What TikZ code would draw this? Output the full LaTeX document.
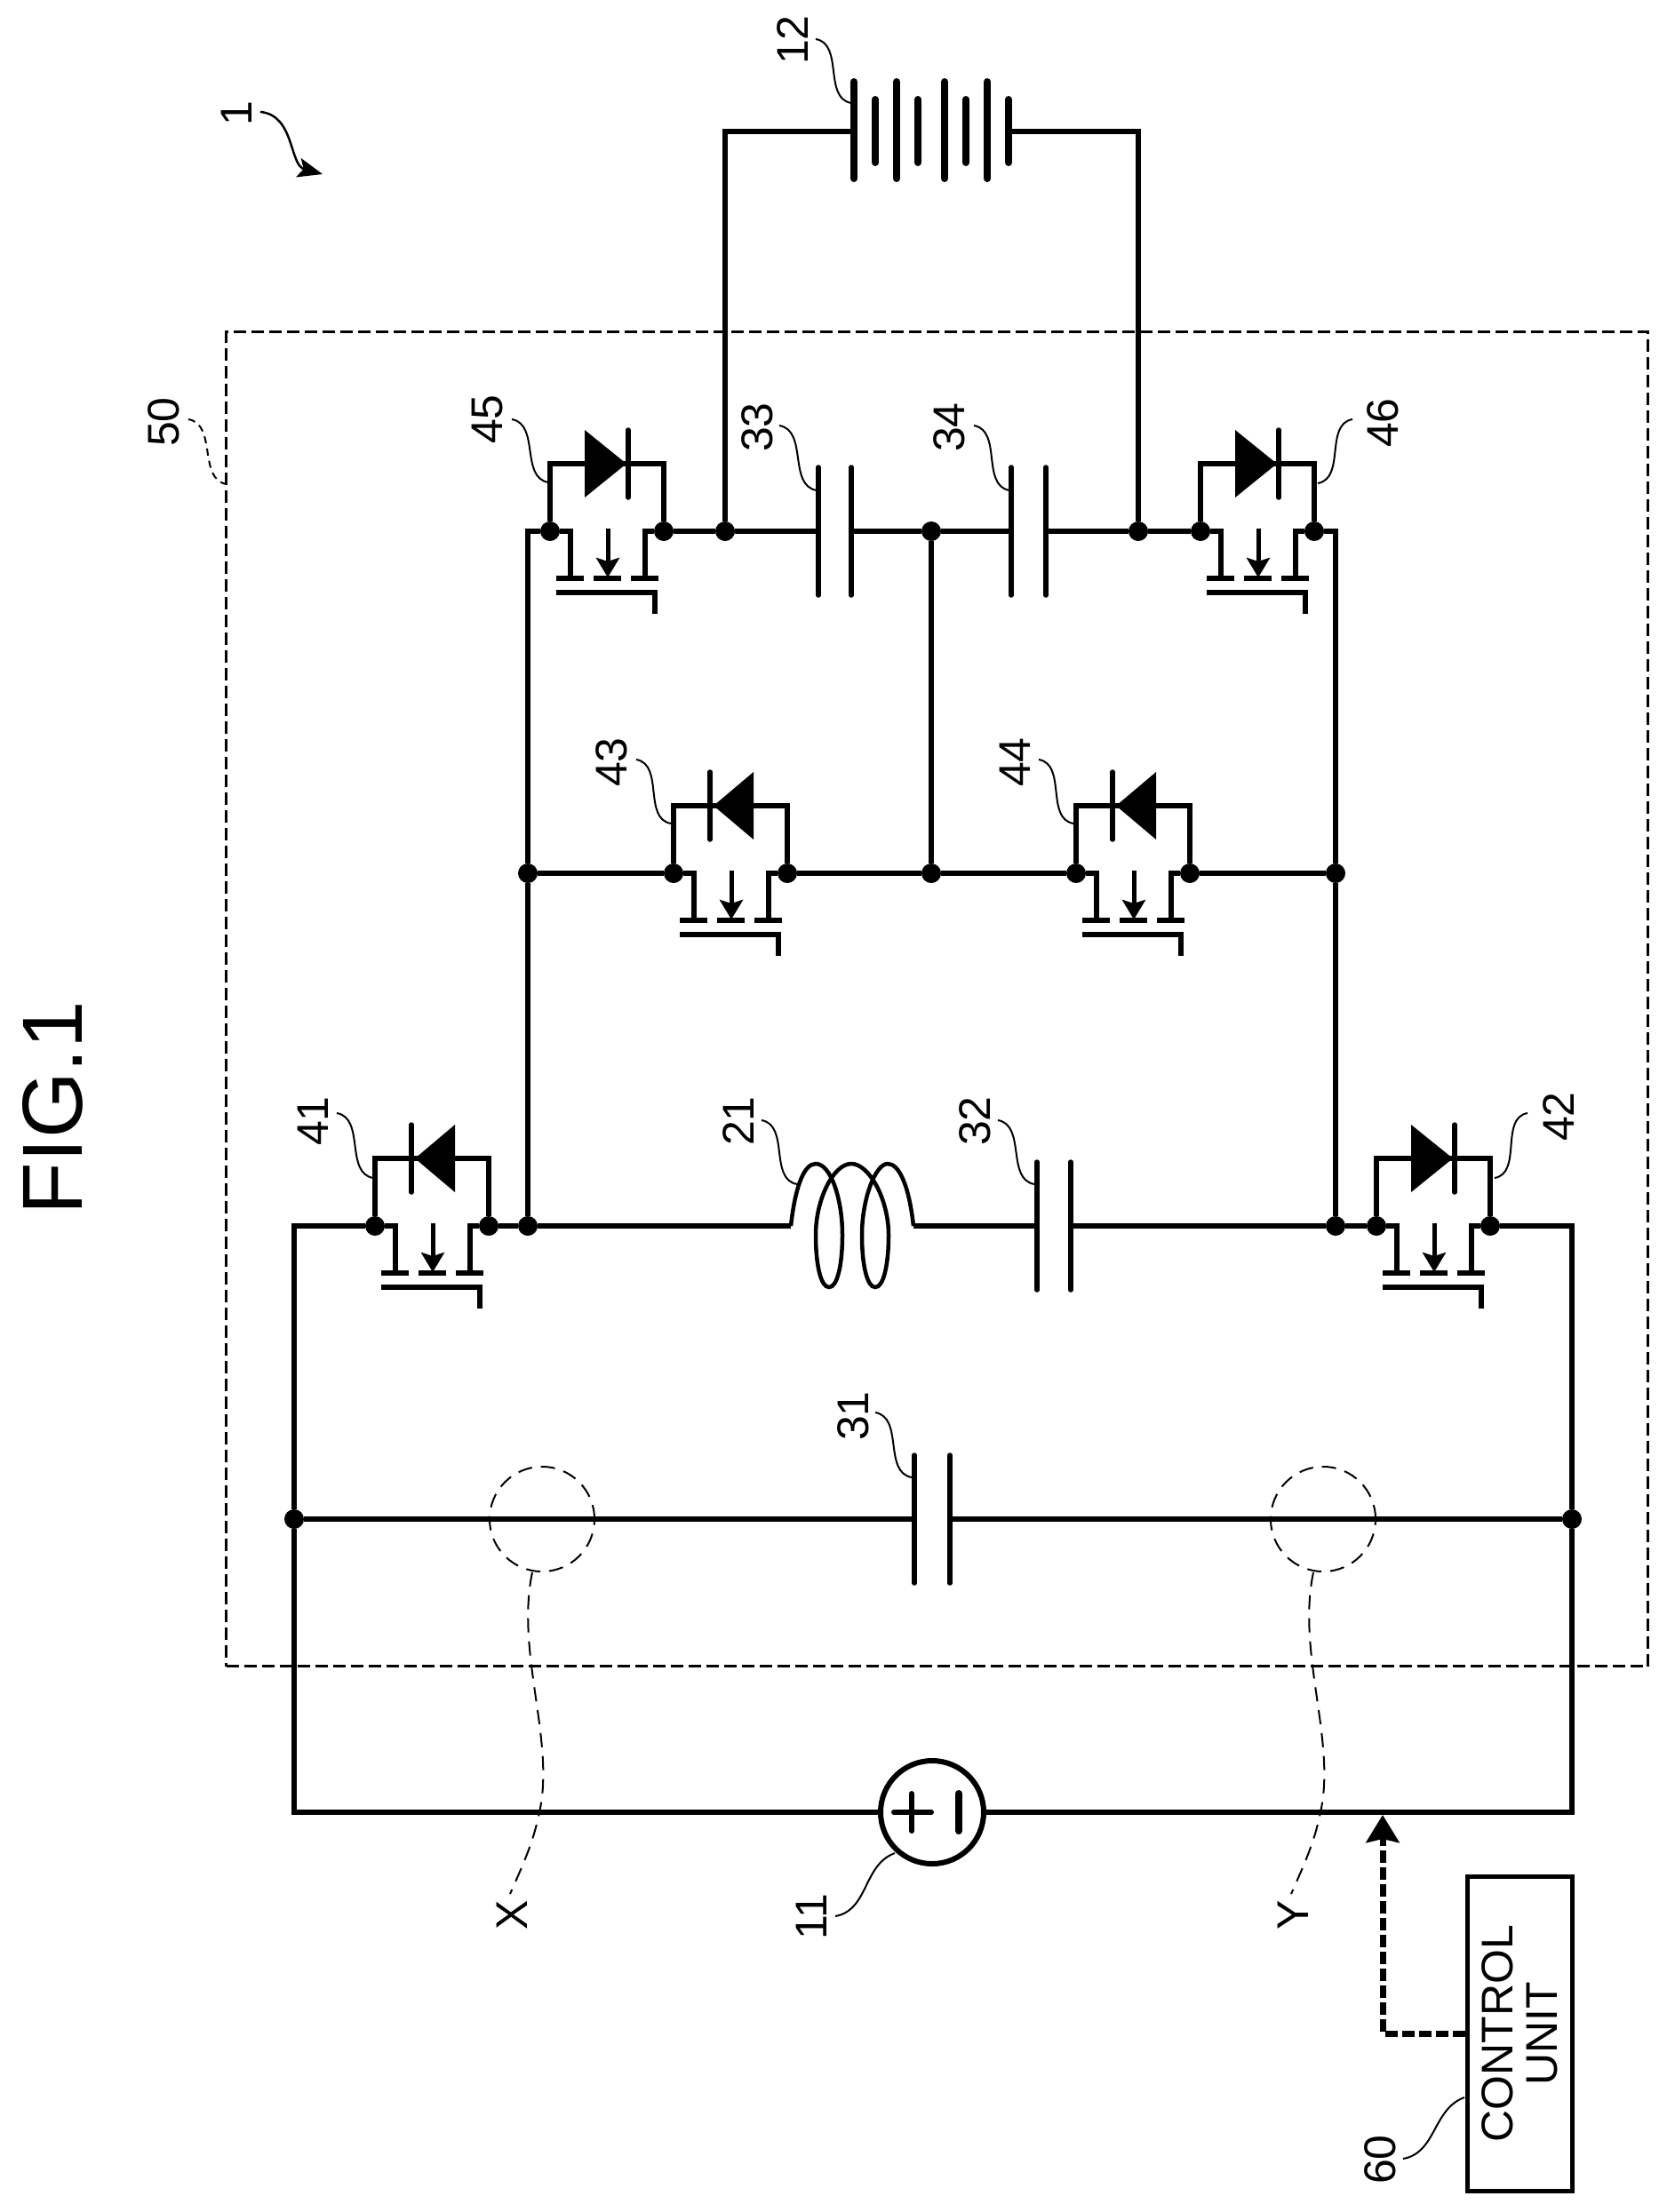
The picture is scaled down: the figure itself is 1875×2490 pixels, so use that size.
\documentclass[tikz,border=0pt]{standalone}
\usepackage{fontspec}
\setmainfont{Liberation Sans}
\usetikzlibrary{arrows.meta}

\tikzset{
  wire/.style={line width=3.25pt},
  plate/.style={line width=2.75pt, line cap=round},
  cell/.style={line width=4pt, line cap=round},
  jdot/.style={circle, fill=black, inner sep=0pt, minimum size=11pt},
  reflabel/.style={rotate=90, inner sep=0pt, font=\fontsize{25}{25}\selectfont},
  leadln/.style={line width=1pt, out=-10, in=170},
  leadback/.style={line width=1pt, out=190, in=10},
  leadup/.style={line width=1pt, out=10, in=200},
  thindash/.style={line width=1pt, dash pattern=on 8pt off 5pt},
}

% one switch, #1 name, #2 #3 left dot, #4 diode
\newcommand{\mosfet}[4]{%
\begin{scope}[shift={(#2,#3)}, name prefix=#1-]
\node[jdot] (l) at (0,0) {};
\node[jdot] (r) at (128,0) {};
\draw[wire] (l) -- (0,-76) -- (128,-76) -- (r);
\draw[wire] (l) -- (23,0) -- (23,53);
\draw[wire] (r) -- (107,0) -- (107,53);
\draw[line width=3pt] (7,53) -- (38,53);
\draw[line width=3pt] (49,53) -- (80,53);
\draw[line width=3pt] (91,53) -- (122,53);
\draw[line width=2.5pt, -{Stealth[length=11pt,width=13pt,inset=2pt]}] (65,-3) -- (65,52);
\draw[line width=3pt] (7,69) -- (118,69) -- (118,93);
#4
\end{scope}}
\newcommand{\diodeleft}{%
\fill (45,-76) -- (90,-114) -- (90,-38) -- cycle;
\draw[plate] (41,-114) -- (41,-38);}
\newcommand{\dioderight}{%
\fill (86,-76) -- (39,-114) -- (39,-38) -- cycle;
\draw[plate] (88,-114) -- (88,-38);}

% capacitor, #1 name, #2 #3 plates, #4 height
\newcommand{\capacitor}[4]{%
\coordinate (#1a) at (#2,#4);
\coordinate (#1b) at (#3,#4);
\draw[plate] (#2,#4-72) -- (#2,#4+72);
\draw[plate] (#3,#4-72) -- (#3,#4+72);}

\begin{document}
\begin{tikzpicture}[x=0.5pt, y=-0.5pt]
\useasboundingbox (0,0) rectangle (1875,2490);

\node[rotate=90, inner sep=0pt, font=\fontsize{48}{48}\selectfont] (fig) at (59,1247) {FIG.1};

%Converter box
\node[draw, line width=1.75pt, dash pattern=on 7pt off 3pt, minimum width=800pt, minimum height=751pt, inner sep=0pt] (box) at (1054.5,1124.5) {};

%Switches
\mosfet{m41}{422}{1380}{\diodeleft}
\mosfet{m42}{1549}{1380}{\dioderight}
\mosfet{m43}{758}{983}{\diodeleft}
\mosfet{m44}{1211}{983}{\diodeleft}
\mosfet{m45}{619}{598}{\dioderight}
\mosfet{m46}{1351}{598}{\dioderight}

%Capacitors
\capacitor{c31}{1029}{1069}{1710}
\capacitor{c32}{1167}{1205}{1380}
\capacitor{c33}{921}{958}{598}
\capacitor{c34}{1138}{1177}{598}

%Junctions
\node[jdot] (jl) at (331,1710) {};
\node[jdot] (jr) at (1769,1710) {};
\node[jdot] (ja) at (594,1380) {};
\node[jdot] (jb) at (1503,1380) {};
\node[jdot] (jc) at (594,983) {};
\node[jdot] (jd) at (1048,983) {};
\node[jdot] (je) at (1503,983) {};
\node[jdot] (jf) at (816,598) {};
\node[jdot] (jg) at (1048,598) {};
\node[jdot] (jh) at (1281,598) {};

\coordinate (tl) at (331,1380);
\coordinate (bl) at (331,2040);
\coordinate (br) at (1769,2040);
\coordinate (tr) at (1769,1380);
\coordinate (ul) at (594,598);
\coordinate (ur) at (1503,598);
\coordinate (batl) at (816,148);
\coordinate (batr) at (1281,148);
\coordinate (bata) at (961,148);
\coordinate (batb) at (1135,148);
\coordinate (cl) at (890,1380);
\coordinate (cr) at (1028,1380);

%Source
\node[draw, circle, line width=3pt, inner sep=0pt, minimum size=58pt] (src) at (1049,2040) {};
\draw[line width=3pt, line cap=round] (1006,2040) -- (1048,2040);
\draw[line width=3pt, line cap=round] (1026,2019) -- (1026,2061);
\draw[line width=4pt, line cap=round] (1079,2019) -- (1079,2061);

%Wires
\draw[wire] (m41-l) -- (tl) -- (jl) -- (bl) -- (src) -- (br) -- (jr) -- (tr) -- (m42-r);
\draw[wire] (jl) -- (c31a);
\draw[wire] (c31b) -- (jr);
\draw[wire] (m41-r) -- (ja) -- (cl);
\draw[wire] (cr) -- (c32a);
\draw[wire] (c32b) -- (jb) -- (m42-l);
\draw[wire] (ja) -- (jc) -- (ul) -- (m45-l);
\draw[wire] (m45-r) -- (jf) -- (c33a);
\draw[wire] (c33b) -- (jg) -- (c34a);
\draw[wire] (c34b) -- (jh) -- (m46-l);
\draw[wire] (m46-r) -- (ur) -- (je) -- (jb);
\draw[wire] (jc) -- (m43-l);
\draw[wire] (m43-r) -- (jd) -- (m44-l);
\draw[wire] (m44-r) -- (je);
\draw[wire] (jg) -- (jd);
\draw[wire] (jf) -- (batl) -- (bata);
\draw[wire] (batb) -- (batr) -- (jh);

%Inductor
\draw[line width=2.25pt] (cl) .. controls (895,1335) and (905,1310) .. (918,1310)
 .. controls (935,1310) and (948,1350) .. (948,1390)
 .. controls (948,1425) and (942,1449) .. (933,1449)
 .. controls (924,1449) and (918,1425) .. (918,1390)
 .. controls (918,1350) and (938,1310) .. (958,1310)
 .. controls (978,1310) and (1000,1350) .. (1000,1390)
 .. controls (1000,1425) and (994,1449) .. (985,1449)
 .. controls (976,1449) and (970,1425) .. (970,1390)
 .. controls (970,1350) and (985,1310) .. (999,1310)
 .. controls (1012,1310) and (1023,1335) .. (cr);

%Battery
\foreach \x in {961,1009,1063,1111}
\draw[cell] (\x,92) -- (\x,201);
\foreach \x in {985,1033,1087,1135}
\draw[cell] (\x,112) -- (\x,183);

%Reference numbers
\foreach \lbl/\lx/\ly/\sx/\sy/\ex/\ey in {12/892/45/918/44/958/116, 21/831/1262/857/1261/897/1333, 31/960/1594/985/1590/1026/1663, 32/1097/1262/1123/1261/1164/1333, 33/852/481/877/479/919/552, 34/1068/481/1096/479/1136/552, 41/352/1262/379/1253/420/1326, 43/688/858/716/855/755/927, 44/1142/858/1169/855/1208/927, 45/549/472/576/472/617/543}{
\node[reflabel] (n\lbl) at (\lx,\ly) {\lbl};
\coordinate (s\lbl) at (\sx,\sy);
\coordinate (e\lbl) at (\ex,\ey);
\draw[leadln] (s\lbl) to (e\lbl);
}
\foreach \lbl/\lx/\ly/\sx/\sy/\ex/\ey in {42/1754/1257/1719/1253/1682/1326, 46/1556/476/1522/472/1483/544}{
\node[reflabel] (n\lbl) at (\lx,\ly) {\lbl};
\coordinate (s\lbl) at (\sx,\sy);
\coordinate (e\lbl) at (\ex,\ey);
\draw[leadback] (s\lbl) to (e\lbl);
}
\foreach \lbl/\lx/\ly/\sx/\sy/\ex/\ey in {11/913/2158/940/2157/1007/2086, 60/1553/2431/1579/2430/1648/2361}{
\node[reflabel] (n\lbl) at (\lx,\ly) {\lbl};
\coordinate (s\lbl) at (\sx,\sy);
\coordinate (e\lbl) at (\ex,\ey);
\draw[leadup] (s\lbl) to (e\lbl);
}

%System number
\node[reflabel] (n1) at (266,128) {1};
\coordinate (s1) at (293,126);
\coordinate (e1) at (363,196);
\draw[line width=1.25pt, out=-5, in=165, -{Stealth[length=14pt,width=11pt,inset=3pt]}] (s1) to (e1);

%Box number
\node[reflabel] (n50) at (184,475) {50};
\coordinate (s50) at (212,472);
\coordinate (e50) at (255,545);
\draw[line width=1pt, dash pattern=on 4pt off 3pt, out=-10, in=170] (s50) to (e50);

%Rings
\foreach \nm/\dx/\txt in {x/0/X, y/879/Y}{
\begin{scope}[shift={(\dx,0)}]
\node[draw, circle, thindash, inner sep=0pt, minimum size=59pt] (ring\nm) at (610,1710) {};
\node[reflabel] (t\nm) at (576,2156) {\txt};
\coordinate (rs\nm) at (599,1770);
\coordinate (re\nm) at (574,2132);
\draw[thindash] (rs\nm) .. controls (580,1860) and (625,1960) .. (607,2040) .. controls (600,2075) and (588,2100) .. (re\nm);
\end{scope}
}

%Control
\node[draw, rotate=90, line width=2.5pt, align=center, inner sep=0pt, minimum width=177pt, minimum height=59pt, font=\fontsize{25}{25}\selectfont] (ctrl) at (1710,2289) {CONTROL\\UNIT};
\coordinate (ctrltip) at (1556,2043);
\draw[line width=3.5pt, dash pattern=on 7pt off 2.5pt, -{Stealth[length=15.5pt,width=18.5pt,inset=2pt]}] (ctrl.north) -| (ctrltip);

\end{tikzpicture}
\end{document}
